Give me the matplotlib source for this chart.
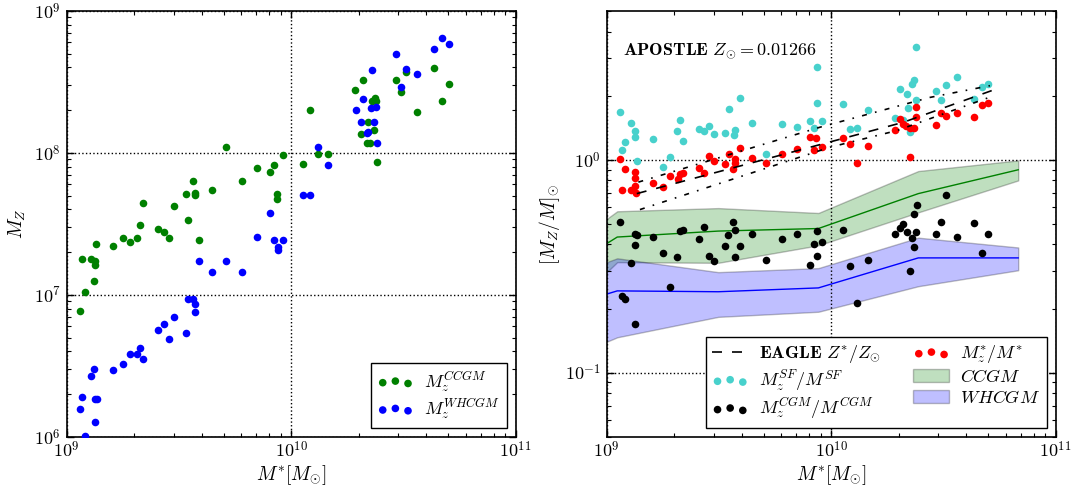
import numpy as np
import matplotlib
matplotlib.use('Agg')
import matplotlib.pyplot as plt
from matplotlib.ticker import LogLocator, FuncFormatter, NullFormatter

plt.rcParams['mathtext.fontset'] = 'cm'
plt.rcParams['font.size'] = 12
plt.rcParams['axes.linewidth'] = 1.2
for ax_name in ['xtick', 'ytick']:
    plt.rcParams[ax_name + '.direction'] = 'in'
    plt.rcParams[ax_name + '.major.size'] = 5
    plt.rcParams[ax_name + '.minor.size'] = 3
    plt.rcParams[ax_name + '.major.width'] = 1
    plt.rcParams[ax_name + '.minor.width'] = 0.8
plt.rcParams['xtick.top'] = True
plt.rcParams['ytick.right'] = True

# --- left panel: metal mass in cold and warm-hot CGM (log10 values) ---
logm_ccgm = [9.711, 9.848, 9.907, 9.925, 9.962, 9.781, 9.649, 9.564, 9.573, 9.573,
             9.530, 9.478, 9.543, 9.592, 9.340, 9.328, 9.409, 9.432, 9.456, 9.314,
             9.283, 9.251, 9.209, 9.133, 9.938, 9.938, 9.068, 9.108, 9.127, 9.127,
             9.124, 9.082, 9.060, 10.082, 10.054, 10.118, 10.166, 10.286, 10.321, 10.341,
             10.309, 10.371, 10.338, 10.353, 10.383, 10.374, 10.362, 10.380, 10.466, 10.512,
             10.490, 10.561, 10.638, 10.701, 10.673]
logz_ccgm = [8.042, 7.894, 7.865, 7.917, 7.983, 7.804, 7.736, 7.804, 7.720, 7.701,
             7.708, 7.626, 7.527, 7.388, 7.647, 7.490, 7.464, 7.443, 7.400, 7.402,
             7.370, 7.402, 7.344, 7.356, 7.708, 7.673, 7.254, 7.254, 7.240, 7.208,
             7.095, 7.022, 6.888, 8.300, 7.922, 7.994, 7.990, 8.443, 8.514, 8.216,
             8.131, 8.161, 8.068, 8.072, 7.938, 8.387, 8.364, 8.366, 8.514, 8.568,
             8.429, 8.286, 8.596, 8.486, 8.364]

logm_whcgm = [10.674, 10.701, 10.638, 10.466, 10.362, 10.512, 10.561, 10.491, 10.321, 10.288,
              10.354, 10.379, 10.309, 10.371, 10.338, 10.344, 10.383, 10.118, 10.166, 10.054,
              10.084, 9.907, 9.848, 9.925, 9.962, 9.940, 9.940, 9.592, 9.711, 9.649,
              9.781, 9.543, 9.565, 9.573, 9.573, 9.478, 9.432, 9.409, 9.456, 9.530,
              9.328, 9.283, 9.314, 9.340, 9.251, 9.209, 9.124, 9.108, 9.068, 9.060,
              9.127, 9.135, 9.127, 9.082]
logz_whcgm = [8.812, 8.765, 8.732, 8.699, 8.584, 8.591, 8.556, 8.462, 8.378, 8.304,
              8.319, 8.323, 8.220, 8.218, 8.142, 8.147, 8.072, 8.042, 7.913, 7.701,
              7.705, 7.574, 7.405, 7.388, 7.386, 7.340, 7.316, 7.236, 7.236, 7.163,
              7.161, 6.968, 6.968, 6.935, 6.881, 6.841, 6.796, 6.752, 6.686, 6.731,
              6.623, 6.583, 6.583, 6.548, 6.510, 6.470, 6.475, 6.430, 6.278, 6.197,
              6.264, 6.264, 6.102, 6.005]

# --- right panel: metallicities in solar units (log10 values) ---
logm_sf = [9.061, 9.068, 9.080, 9.110, 9.126, 9.126, 9.133, 9.208, 9.252, 9.282,
           9.314, 9.327, 9.341, 9.409, 9.432, 9.454, 9.478, 9.529, 9.543, 9.571,
           9.565, 9.592, 9.648, 9.710, 9.780, 9.846, 9.906, 9.925, 9.937, 9.937,
           9.961, 10.054, 10.082, 10.116, 10.165, 10.284, 10.306, 10.320, 10.338, 10.342,
           10.360, 10.370, 10.380, 10.379, 10.353, 10.465, 10.489, 10.510, 10.559, 10.636,
           10.670, 10.700]
logzsf = [0.226, 0.047, 0.084, 0.175, 0.137, 0.109, -0.005, 0.098, -0.036, 0.013,
          0.133, 0.187, 0.089, 0.143, 0.136, 0.160, 0.123, 0.128, 0.239, 0.140,
          0.116, 0.290, 0.175, 0.025, 0.167, 0.156, 0.180, 0.148, 0.435, 0.267,
          0.180, 0.263, 0.144, 0.150, 0.233, 0.197, 0.333, 0.189, 0.311, 0.242,
          0.355, 0.376, 0.530, 0.281, 0.131, 0.323, 0.280, 0.349, 0.391, 0.287,
          0.343, 0.356]

logm_star = [9.060, 9.080, 9.069, 9.107, 9.125, 9.125, 9.125, 9.132, 9.208, 9.250,
             9.282, 9.316, 9.327, 9.339, 9.409, 9.432, 9.454, 9.478, 9.529, 9.543,
             9.571, 9.571, 9.564, 9.592, 9.648, 9.710, 9.780, 9.846, 9.906, 9.932,
             9.923, 9.960, 10.054, 10.082, 10.116, 10.165, 10.284, 10.306, 10.318, 10.335,
             10.353, 10.369, 10.378, 10.376, 10.352, 10.465, 10.489, 10.510, 10.559, 10.636,
             10.670, 10.700]
logzstar = [0.003, -0.043, -0.140, -0.140, -0.056, -0.086, -0.121, -0.157, -0.111, -0.126,
            -0.077, -0.092, -0.067, -0.061, -0.037, -0.062, 0.017, -0.004, -0.022, 0.028,
            0.006, -0.015, -0.041, 0.057, 0.008, -0.014, 0.026, 0.050, 0.109, 0.104,
            0.048, 0.062, 0.103, 0.072, -0.016, 0.067, 0.141, 0.193, 0.169, 0.158,
            0.151, 0.147, 0.250, 0.201, 0.015, 0.163, 0.218, 0.206, 0.218, 0.202,
            0.259, 0.265]

logm_cgm = [9.059, 9.126, 9.134, 9.126, 9.208, 9.250, 9.314, 9.328, 9.341, 9.410,
            9.432, 9.454, 9.478, 9.528, 9.542, 9.564, 9.571, 9.571, 9.592, 9.649,
            9.710, 9.780, 9.848, 9.906, 9.923, 9.938, 9.937, 9.960, 9.108, 9.282,
            9.068, 9.082, 9.126, 10.054, 10.284, 10.306, 10.318, 10.339, 10.359, 10.378,
            10.370, 10.381, 10.510, 10.465, 10.489, 10.559, 10.636, 10.700, 10.370, 10.670,
            10.082, 10.165, 10.351, 10.116]
logzcgm = [-0.294, -0.347, -0.355, -0.399, -0.361, -0.439, -0.459, -0.335, -0.328, -0.373,
           -0.316, -0.452, -0.475, -0.406, -0.353, -0.294, -0.328, -0.456, -0.406, -0.347,
           -0.472, -0.373, -0.350, -0.494, -0.396, -0.451, -0.333, -0.386, -0.486, -0.596,
           -0.640, -0.656, -0.770, -0.331, -0.347, -0.320, -0.300, -0.341, -0.367, -0.338,
           -0.256, -0.213, -0.164, -0.349, -0.294, -0.363, -0.297, -0.350, -0.412, -0.438,
           -0.499, -0.472, -0.523, -0.675]

# binned medians and percentile bands
logm_bins = [9.0, 9.047, 9.497, 9.943, 10.388, 10.833]
ccgm_hi = [-0.278, -0.242, -0.227, -0.250, -0.053, -0.003]
ccgm_med = [-0.394, -0.363, -0.335, -0.323, -0.159, -0.047]
ccgm_lo = [-0.528, -0.481, -0.484, -0.402, -0.247, -0.097]
whcgm_hi = [-0.481, -0.463, -0.528, -0.509, -0.366, -0.412]
whcgm_med = [-0.631, -0.616, -0.620, -0.602, -0.461, -0.461]
whcgm_lo = [-0.855, -0.834, -0.738, -0.714, -0.594, -0.519]

# EAGLE stellar mass-metallicity relation
eagle_logm = [9.134, 9.935, 10.321, 10.715]
eagle_med = [-0.159, 0.067, 0.176, 0.325]
eagle_hi_logm = [9.141, 9.950, 10.440, 10.707]
eagle_hi = [-0.105, 0.153, 0.293, 0.348]
eagle_lo_logm = [9.148, 9.995, 10.292, 10.725]
eagle_lo = [-0.234, 0.059, 0.137, 0.301]


def p10(v):
    return 10 ** np.asarray(v)


def log_label(v, pos):
    return r'$10^{%d}$' % int(round(np.log10(v)))


def style_axes(ax):
    ax.set_xscale('log')
    ax.set_yscale('log')
    ax.xaxis.set_major_locator(LogLocator(base=10))
    ax.yaxis.set_major_locator(LogLocator(base=10))
    ax.xaxis.set_major_formatter(FuncFormatter(log_label))
    ax.yaxis.set_major_formatter(FuncFormatter(log_label))
    ax.xaxis.set_minor_formatter(NullFormatter())
    ax.yaxis.set_minor_formatter(NullFormatter())
    ax.grid(True, which='major', color='k', linestyle=':', linewidth=1)
    ax.tick_params(which='both', labelsize=13)
    ax.tick_params(axis='x', pad=3)
    ax.tick_params(axis='y', pad=4)


fig = plt.figure(figsize=(10.78, 4.87), dpi=100)
ax1 = fig.add_axes([0.0617, 0.1033, 0.4167, 0.8741])
ax2 = fig.add_axes([0.5628, 0.1033, 0.4165, 0.8741])

pt = 30
leg_kw = dict(scatterpoints=3, fontsize=13, fancybox=False, framealpha=1,
              edgecolor='k', borderaxespad=0.5, labelspacing=0.15,
              borderpad=0.35, handletextpad=0.6)

# left panel
ax1.scatter(p10(logm_ccgm), p10(logz_ccgm), s=pt, color='g', linewidths=0,
            label=r'$M_z^{CCGM}$', zorder=3)
ax1.scatter(p10(logm_whcgm), p10(logz_whcgm), s=pt, color='b', linewidths=0,
            label=r'$M_z^{WHCGM}$', zorder=3)
style_axes(ax1)
ax1.set_xlim(1e9, 1e11)
ax1.set_ylim(1e6, 1e9)
ax1.set_xlabel(r'$M^{*}[M_{\odot}]$', fontsize=14, labelpad=1)
ax1.set_ylabel(r'$M_Z$', fontsize=14)
ax1.legend(loc='lower right', **leg_kw)

# right panel
ax2.fill_between(p10(logm_bins), p10(ccgm_lo), p10(ccgm_hi), color='g', alpha=0.25,
                 edgecolor='k', linewidth=1, label=r'$CCGM$', zorder=1)
ax2.fill_between(p10(logm_bins), p10(whcgm_lo), p10(whcgm_hi), color='b', alpha=0.25,
                 edgecolor='k', linewidth=1, label=r'$WHCGM$', zorder=1)
ax2.plot(p10(logm_bins), p10(ccgm_med), color='g', linewidth=1, zorder=2)
ax2.plot(p10(logm_bins), p10(whcgm_med), color='b', linewidth=1, zorder=2)

ax2.plot(p10(eagle_logm), p10(eagle_med), color='k', linestyle=(0, (6, 6)),
         linewidth=1.2, label=r'$\mathbf{EAGLE}\ Z^{*}/Z_{\odot}$', zorder=4)
ax2.plot(p10(eagle_hi_logm), p10(eagle_hi), color='k', linestyle=(0, (3, 5, 1, 5)),
         linewidth=1.2, zorder=4)
ax2.plot(p10(eagle_lo_logm), p10(eagle_lo), color='k', linestyle=(0, (3, 5, 1, 5)),
         linewidth=1.2, zorder=4)

ax2.scatter(p10(logm_sf), p10(logzsf), s=pt, color='mediumturquoise', linewidths=0,
            label=r'$M_z^{SF}/M^{SF}$', zorder=3)
ax2.scatter(p10(logm_cgm), p10(logzcgm), s=pt, color='k', linewidths=0,
            label=r'$M_z^{CGM}/M^{CGM}$', zorder=3)
ax2.scatter(p10(logm_star), p10(logzstar), s=pt, color='r', linewidths=0,
            label=r'$M_z^{*}/M^{*}$', zorder=3)

style_axes(ax2)
ax2.set_xlim(1e9, 1e11)
ax2.set_ylim(0.05, 5)
ax2.set_xlabel(r'$M^{*}[M_{\odot}]$', fontsize=14, labelpad=1)
ax2.set_ylabel(r'$[M_Z/M]_{\odot}$', fontsize=14, labelpad=2)
ax2.text(0.036, 0.905, r'$\mathbf{APOSTLE}\ Z_{\odot}=0.01266$', transform=ax2.transAxes,
         fontsize=13, va='center', ha='left')

handles, labels = ax2.get_legend_handles_labels()
order = [labels.index(l) for l in [r'$\mathbf{EAGLE}\ Z^{*}/Z_{\odot}$', r'$M_z^{SF}/M^{SF}$',
                                   r'$M_z^{CGM}/M^{CGM}$', r'$M_z^{*}/M^{*}$',
                                   r'$CCGM$', r'$WHCGM$']]
ax2.legend([handles[i] for i in order], [labels[i] for i in order], loc='lower right',
           ncol=2, columnspacing=1.8, **leg_kw)

fig.savefig('out.png', dpi=100)
